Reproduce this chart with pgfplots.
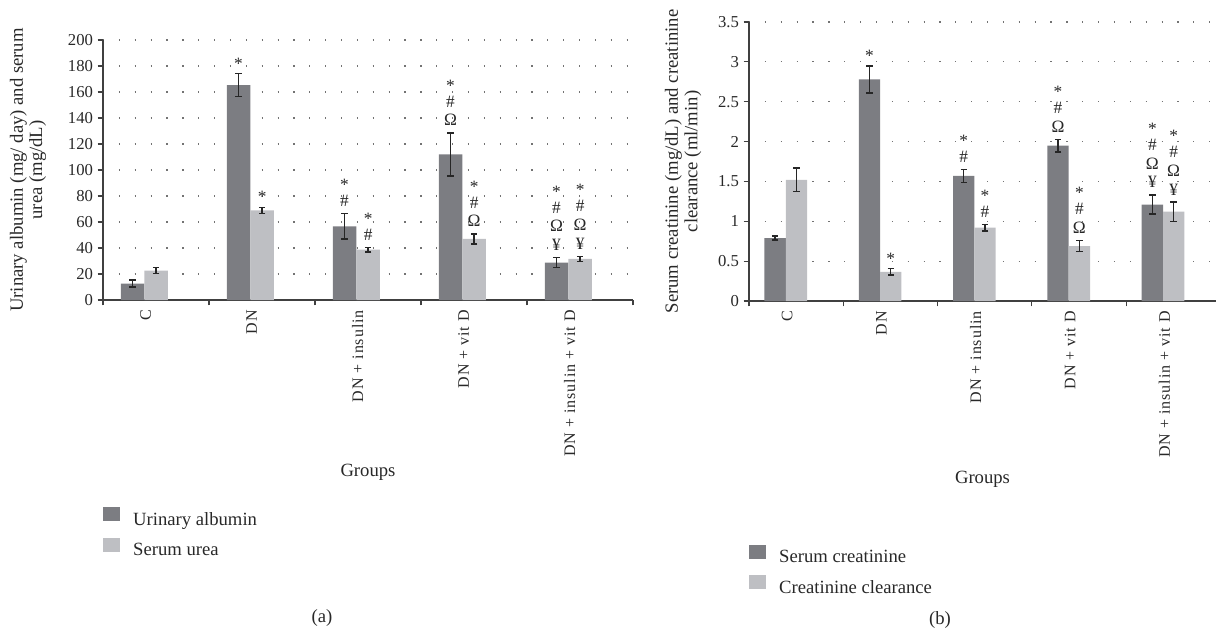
\documentclass[border=0pt]{standalone}
\usepackage{pgfplots}
\pgfplotsset{compat=1.18}
\usepackage{fontspec}
\setmainfont{Liberation Serif}
\newfontfamily\spaced[LetterSpace=6]{Liberation Serif}
\definecolor{darkbar}{RGB}{124,125,130}
\definecolor{lightbar}{RGB}{190,191,195}
\definecolor{txt}{RGB}{40,40,40}

\tikzset{sy/.style={anchor=base, inner sep=0pt, font=\fontsize{13}{13}\selectfont}}
% significance marks stacked above an error bar: x, top of error bar, how many
\newcommand{\stk}[3]{%
  \ifcase#3\relax\or
    \node[sy, yshift=3.25pt] at (axis cs:#1,#2) {*};%
  \or
    \node[sy, yshift=5.35pt] at (axis cs:#1,#2) {\#};%
    \node[sy, yshift=17.25pt] at (axis cs:#1,#2) {*};%
  \or
    \node[sy, yshift=5.35pt] at (axis cs:#1,#2) {Ω};%
    \node[sy, yshift=19.35pt] at (axis cs:#1,#2) {\#};%
    \node[sy, yshift=31.25pt] at (axis cs:#1,#2) {*};%
  \or
    \node[sy, yshift=5.35pt] at (axis cs:#1,#2) {¥};%
    \node[sy, yshift=19.35pt] at (axis cs:#1,#2) {Ω};%
    \node[sy, yshift=33.35pt] at (axis cs:#1,#2) {\#};%
    \node[sy, yshift=45.25pt] at (axis cs:#1,#2) {*};%
  \fi}

\pgfplotsset{
  panel/.style={
    scale only axis, anchor=south west,
    axis x line=bottom, axis y line=left,
    axis line style={-, line width=0.8pt, black!75},
    ymin=0, xmin=-0.39,
    xtick={-0.39,0.61,1.61,2.61,3.61,4.61}, xticklabels={,,,,,},
    extra x ticks={0,1,2,3,4},
    extra x tick labels={C,DN,DN + insulin,DN + vit D,DN + insulin + vit D},
    extra x tick style={tick style={draw=none}},
    x tick label style={rotate=90, anchor=east, font=\spaced\fontsize{12}{12}\selectfont, yshift=-1pt},
    tick align=outside, major tick length=4pt,
    tick style={black!75, line width=0.8pt},
    ymajorgrids, grid style={black!55, line width=0.9pt, dash pattern=on 0.9pt off 11pt},
    y tick label style={font=\fontsize{12.5}{13}\selectfont},
    /pgf/number format/assume math mode=true,
    ylabel style={align=center, anchor=center, font=\fontsize{14}{14.5}\selectfont},
    xlabel={Groups},
    xlabel style={anchor=center, font=\fontsize{14}{16}\selectfont},
    legend style={draw=none, fill=none, inner sep=0pt, anchor=north west,
      font=\fontsize{14}{16}\selectfont, legend cell align=left,
      nodes={inner sep=0pt}, column sep=10pt, row sep=8pt},
    error bars/error bar style={line width=1pt, black!85},
    error bars/error mark options={rotate=90, mark size=2.4pt, line width=1pt, black!85},
  }
}

\begin{document}
\begin{tikzpicture}[every node/.append style={text=txt}]
\useasboundingbox (0,0) rectangle (912pt,-473.25pt);

% (a)
\begin{axis}[panel, at={(77.25pt,-225pt)}, width=397.5pt, height=195pt,
  xmax=4.61, ymax=200, ytick={0,20,...,200},
  ylabel={Urinary albumin (mg/ day) and serum\\urea (mg/dL)},
  ylabel style={at={(axis description cs:-0.1415,0.5)}},
  xlabel style={at={(axis description cs:0.5,-0.662)}},
  legend style={at={(axis description cs:0,-0.796)}},
  bar width=17.6pt]
\addlegendimage{legend image code/.code={\fill[darkbar] (0pt,-0.7pt) rectangle (12pt,9.1pt);}}
\addlegendentry{Urinary albumin}
\addlegendimage{legend image code/.code={\fill[lightbar] (0pt,-0.7pt) rectangle (12pt,9.1pt);}}
\addlegendentry{Serum urea}
\addplot[ybar, bar shift=0pt, x filter/.expression={x-0.111}, fill=darkbar, draw=none, forget plot,
  error bars/.cd, y dir=both, y explicit] coordinates {
  (0,12.6) +- (0,2.7)
  (1,165.3) +- (0,8.7)
  (2,56.6) +- (0,9.8)
  (3,112) +- (0,16.5)
  (4,28.8) +- (0,3.9)
};
\addplot[ybar, bar shift=0pt, x filter/.expression={x+0.111}, fill=lightbar, draw=none, forget plot,
  error bars/.cd, y dir=both, y explicit] coordinates {
  (0,22.6) +- (0,2.2)
  (1,68.9) +- (0,2.4)
  (2,38.8) +- (0,1.8)
  (3,47) +- (0,3.9)
  (4,31.6) +- (0,2.0)
};
\stk{0.889}{174}{1}
\stk{1.889}{66.4}{2}
\stk{2.889}{128.5}{3}
\stk{3.889}{32.7}{4}
\stk{1.111}{71.3}{1}
\stk{2.111}{40.6}{2}
\stk{3.111}{50.9}{3}
\stk{4.111}{33.6}{4}
\end{axis}

% (b)
\begin{axis}[panel, at={(561.75pt,-225.75pt)}, width=350.25pt, height=209.25pt,
  xmax=4.562, ymax=3.5, ytick={0,0.5,...,3.5},
  ylabel={Serum creatinine (mg/dL) and creatinine\\clearance (ml/min)},
  ylabel style={at={(axis description cs:-0.141,0.5)}},
  xlabel style={at={(axis description cs:0.5,-0.64)}},
  legend style={at={(axis description cs:0,-0.874)}},
  bar width=16pt]
\addlegendimage{legend image code/.code={\fill[darkbar] (0pt,-0.7pt) rectangle (12pt,9.1pt);}}
\addlegendentry{Serum creatinine}
\addlegendimage{legend image code/.code={\fill[lightbar] (0pt,-0.7pt) rectangle (12pt,9.1pt);}}
\addlegendentry{Creatinine clearance}
\addplot[ybar, bar shift=0pt, x filter/.expression={x-0.113}, fill=darkbar, draw=none, forget plot,
  error bars/.cd, y dir=both, y explicit] coordinates {
  (0,0.79) +- (0,0.025)
  (1,2.78) +- (0,0.17)
  (2,1.57) +- (0,0.08)
  (3,1.95) +- (0,0.08)
  (4,1.21) +- (0,0.12)
};
\addplot[ybar, bar shift=0pt, x filter/.expression={x+0.113}, fill=lightbar, draw=none, forget plot,
  error bars/.cd, y dir=both, y explicit] coordinates {
  (0,1.52) +- (0,0.15)
  (1,0.365) +- (0,0.04)
  (2,0.92) +- (0,0.04)
  (3,0.69) +- (0,0.07)
  (4,1.12) +- (0,0.12)
};
\stk{0.887}{2.95}{1}
\stk{1.887}{1.65}{2}
\stk{2.887}{2.03}{3}
\stk{3.887}{1.33}{4}
\stk{1.113}{0.405}{1}
\stk{2.113}{0.96}{2}
\stk{3.113}{0.76}{3}
\stk{4.113}{1.24}{4}
\end{axis}

\node[font=\fontsize{14}{16}\selectfont] at (241.5pt,-463.5pt) {(a)};
\node[font=\fontsize{14}{16}\selectfont] at (705pt,-465pt) {(b)};
\end{tikzpicture}
\end{document}
